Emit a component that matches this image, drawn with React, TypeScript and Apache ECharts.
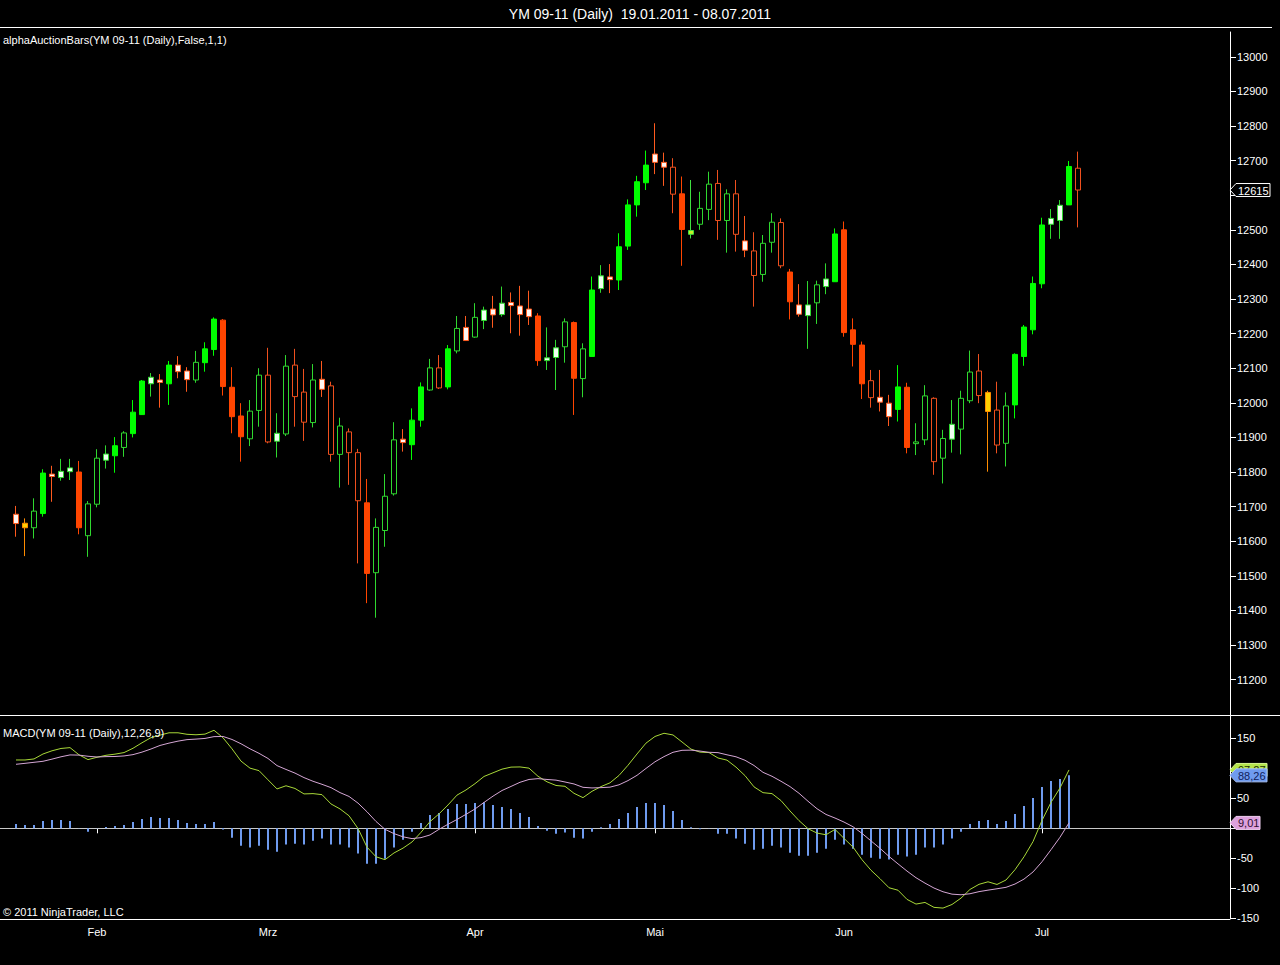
import React, { useEffect, useRef } from "react";
import * as echarts from "echarts";

const TITLE = "YM 09-11 (Daily)  19.01.2011 - 08.07.2011";
const PRICE_PANEL_LABEL = "alphaAuctionBars(YM 09-11 (Daily),False,1,1)";
const MACD_PANEL_LABEL = "MACD(YM 09-11 (Daily),12,26,9)";
const COPYRIGHT = "© 2011 NinjaTrader, LLC";

const HOLIDAYS = ["2011-02-21", "2011-04-22", "2011-05-30", "2011-07-04"];
const FUTURE_SLOTS = 16;
const MONTH_NAMES = ["Jan", "Feb", "Mrz", "Apr", "Mai", "Jun", "Jul", "Aug", "Sep", "Okt", "Nov", "Dez"];

const priceTicks = [11200, 11300, 11400, 11500, 11600, 11700, 11800, 11900, 12000, 12100, 12200, 12300, 12400, 12500, 12600, 12700, 12800, 12900, 13000];
// labels that are not covered by the last-value tags
const priceLabels = [11200, 11300, 11400, 11500, 11600, 11700, 11800, 11900, 12000, 12100, 12200, 12300, 12400, 12500, 12700, 12800, 12900, 13000];
const macdTicks = [-150, -100, -50, 0, 50, 100, 150];
const macdLabels = [-150, -100, -50, 50, 150];

// OHLC per trading day
const opens = [
  11678, 11652, 11639, 11680, 11794, 11784, 11801, 11800, 11616, 11707,
  11834, 11847, 11871, 11911, 11966, 12055, 12066, 12055, 12109, 12092,
  12066, 12116, 12154, 12239, 12045, 11962, 11896, 11978, 12080, 11889,
  11910, 12109, 12031, 11943, 12068, 12049, 11851, 11916, 11856, 11711,
  11509, 11631, 11737, 11895, 11879, 11950, 12037, 12101, 12046, 12150,
  12218, 12190, 12238, 12271, 12255, 12290, 12280, 12271, 12251, 12122,
  12131, 12162, 12232, 12070, 12134, 12330, 12364, 12355, 12453, 12572,
  12636, 12719, 12695, 12681, 12604, 12487, 12516, 12559, 12634, 12527,
  12604, 12468, 12439, 12371, 12464, 12521, 12378, 12283, 12252, 12289,
  12336, 12350, 12500, 12211, 12167, 12064, 12016, 11999, 11981, 12045,
  11882, 11893, 12013, 11840, 11895, 11924, 12006, 12092, 12030, 11979,
  11883, 11994, 12134, 12211, 12344, 12516, 12527, 12572, 12678,
];
const closes = [
  11651, 11639, 11687, 11797, 11787, 11802, 11812, 11639, 11708, 11840,
  11852, 11876, 11913, 11973, 12063, 12074, 12059, 12109, 12090, 12067,
  12117, 12156, 12242, 12047, 11960, 11902, 11976, 12080, 11887, 11912,
  12106, 12018, 11944, 12066, 12039, 11851, 11933, 11856, 11717, 11507,
  11640, 11730, 11893, 11885, 11950, 12046, 12101, 12043, 12156, 12215,
  12180, 12247, 12268, 12254, 12288, 12281, 12255, 12249, 12122, 12130,
  12159, 12234, 12071, 12156, 12326, 12367, 12356, 12451, 12572, 12639,
  12687, 12695, 12681, 12603, 12501, 12498, 12562, 12632, 12527, 12604,
  12487, 12441, 12368, 12461, 12522, 12396, 12292, 12256, 12283, 12341,
  12358, 12488, 12203, 12169, 12055, 12015, 12002, 11960, 12046, 11871,
  11887, 12020, 11830, 11897, 11938, 12013, 12089, 12021, 11975, 11878,
  11991, 12140, 12219, 12345, 12514, 12533, 12571, 12683, 12615,
];
const lows = [
  11613, 11557, 11608, 11671, 11714, 11775, 11777, 11620, 11555, 11698,
  11810, 11798, 11844, 11900, 11965, 12018, 11986, 11994, 12071, 12032,
  12058, 12090, 12136, 12021, 11912, 11830, 11875, 11931, 11883, 11842,
  11904, 11931, 11890, 11929, 12017, 11830, 11755, 11763, 11536, 11421,
  11379, 11584, 11732, 11859, 11835, 11931, 12035, 12040, 12039, 12143,
  12179, 12188, 12213, 12217, 12249, 12201, 12194, 12225, 12107, 12095,
  12037, 12116, 11965, 12016, 12134, 12318, 12317, 12326, 12442, 12538,
  12615, 12661, 12627, 12548, 12396, 12475, 12500, 12528, 12471, 12434,
  12437, 12421, 12278, 12350, 12434, 12389, 12241, 12249, 12156, 12228,
  12314, 12350, 12191, 12105, 12011, 11986, 11975, 11933, 11946, 11854,
  11849, 11878, 11792, 11767, 11856, 11851, 11999, 11999, 11801, 11854,
  11816, 11955, 12107, 12198, 12331, 12474, 12474, 12572, 12507,
];
const highs = [
  11702, 11666, 11724, 11808, 11818, 11838, 11838, 11832, 11716, 11866,
  11877, 11901, 11918, 12008, 12066, 12086, 12083, 12121, 12135, 12103,
  12150, 12175, 12247, 12242, 12103, 11999, 12008, 12100, 12159, 11970,
  12138, 12156, 12098, 12112, 12121, 12061, 11957, 11926, 11867, 11780,
  11666, 11794, 11944, 11924, 11984, 12059, 12127, 12138, 12167, 12251,
  12251, 12288, 12278, 12309, 12336, 12319, 12338, 12324, 12259, 12218,
  12182, 12244, 12235, 12172, 12365, 12398, 12401, 12490, 12588, 12656,
  12729, 12808, 12723, 12707, 12654, 12644, 12610, 12668, 12673, 12617,
  12644, 12540, 12493, 12485, 12548, 12533, 12387, 12343, 12352, 12353,
  12403, 12504, 12524, 12244, 12177, 12095, 12095, 12023, 12109, 12058,
  11941, 12051, 12016, 11922, 12008, 12035, 12151, 12141, 12035, 12061,
  12030, 12143, 12225, 12365, 12535, 12560, 12586, 12699, 12726,
];
// bar state of the alphaAuctionBars indicator:
// G up filled, g up hollow, R down filled, r down hollow, W/w white bodies, Y yellow, L lime
const barKinds = [
  "W", "Y", "g", "G", "W", "w", "w", "R", "g", "g",
  "w", "G", "g", "G", "G", "w", "W", "G", "W", "W",
  "g", "G", "G", "R", "R", "R", "g", "g", "r", "w",
  "g", "r", "r", "g", "W", "r", "g", "r", "r", "R",
  "g", "g", "g", "W", "G", "G", "g", "r", "G", "g",
  "W", "g", "w", "W", "w", "W", "W", "W", "R", "w",
  "w", "g", "R", "g", "G", "w", "W", "G", "G", "G",
  "G", "W", "W", "r", "R", "L", "g", "g", "r", "g",
  "r", "W", "r", "g", "g", "r", "R", "W", "w", "g",
  "w", "G", "R", "R", "R", "r", "W", "W", "G", "R",
  "g", "g", "r", "g", "w", "g", "g", "r", "Y", "r",
  "g", "G", "G", "G", "G", "w", "w", "G", "r",
];

// MACD (12,26,9); the last bar has no value yet
const macdLine = [
  113.9, 113.9, 115.6, 123.9, 129.2, 133.1, 134.5, 122.5, 114.5, 118.4,
  121.7, 123.6, 126.2, 133.4, 142.6, 151.1, 155.3, 159.2, 159.2, 156.7,
  155.9, 157.0, 163.4, 150.9, 132.5, 112.0, 100.3, 96.1, 80.8, 65.6,
  70.9, 66.4, 57.3, 57.8, 56.1, 40.6, 32.3, 20.9, -0.3, -31.4,
  -47.5, -52.3, -41.1, -33.1, -22.8, -6.7, 11.1, 24.0, 38.9, 55.3,
  63.9, 74.4, 86.4, 92.5, 98.6, 102.0, 102.3, 100.3, 86.7, 77.5,
  71.4, 70.0, 58.3, 51.1, 61.7, 69.5, 75.8, 88.1, 105.1, 123.9,
  142.0, 153.1, 158.4, 155.6, 143.9, 132.0, 127.0, 126.2, 117.2, 113.6,
  102.0, 87.8, 69.1, 59.4, 57.8, 46.2, 28.9, 12.8, -0.6, -8.0,
  -10.8, -1.8, -16.8, -31.3, -52.4, -69.9, -84.0, -99.1, -103.2, -118.5,
  -126.3, -123.6, -131.8, -133.0, -127.0, -116.4, -101.9, -93.4, -89.2, -93.6,
  -86.2, -69.0, -47.5, -22.2, 13.1, 43.2, 67.3, 97.27,
];
const signalLine = [
  106.7, 108.3, 110.0, 111.7, 115.3, 119.2, 122.3, 122.0, 120.1, 118.9,
  119.5, 119.7, 120.6, 122.8, 127.0, 132.2, 138.1, 142.0, 145.3, 147.8,
  148.7, 149.8, 152.8, 153.1, 148.1, 140.9, 132.5, 125.0, 116.4, 104.5,
  98.1, 92.0, 84.5, 78.4, 73.3, 67.8, 59.5, 53.1, 42.0, 27.5,
  11.4, -1.7, -8.9, -14.2, -17.2, -15.6, -11.1, -1.7, 6.7, 14.7,
  23.3, 32.2, 43.1, 53.6, 63.0, 69.8, 76.7, 81.4, 82.8, 81.4,
  80.3, 77.2, 73.9, 68.3, 67.3, 67.8, 68.6, 72.5, 79.5, 88.3,
  99.8, 110.9, 119.5, 126.7, 130.0, 130.3, 128.7, 126.7, 126.1, 122.5,
  119.2, 113.4, 104.7, 93.3, 86.7, 78.4, 69.5, 58.4, 45.1, 32.6,
  23.1, 17.1, 10.4, 2.6, -8.5, -21.0, -33.4, -46.9, -59.3, -71.3,
  -82.4, -91.4, -99.6, -105.8, -109.8, -110.8, -109.1, -105.6, -103.1, -100.8,
  -98.4, -92.9, -84.7, -72.8, -55.8, -35.7, -14.9, 9.01,
];
const diffHist = [
  7.2, 5.6, 5.6, 12.2, 13.9, 13.9, 12.2, 0.5, -5.6, -0.5,
  2.2, 3.9, 5.6, 10.6, 15.6, 18.9, 17.2, 17.2, 13.9, 8.9,
  7.2, 7.2, 10.6, -2.2, -15.6, -28.9, -32.2, -28.9, -35.6, -38.9,
  -27.2, -25.6, -27.2, -20.6, -17.2, -27.2, -27.2, -32.2, -42.2, -58.9,
  -58.9, -50.6, -32.2, -18.9, -5.6, 8.9, 22.2, 25.6, 32.2, 40.6,
  40.6, 42.2, 43.3, 38.9, 35.6, 32.2, 25.6, 18.9, 3.9, -3.9,
  -8.9, -7.2, -15.6, -17.2, -5.6, 1.7, 7.2, 15.6, 25.6, 35.6,
  42.2, 42.2, 38.9, 28.9, 13.9, 1.7, -1.7, -0.5, -8.9, -8.9,
  -17.2, -25.6, -35.6, -33.9, -28.9, -32.2, -40.6, -45.6, -45.6, -40.6,
  -33.9, -18.9, -27.2, -33.9, -43.9, -48.9, -50.6, -52.2, -43.9, -47.2,
  -43.9, -32.2, -32.2, -27.2, -17.2, -5.6, 7.2, 12.2, 13.9, 7.2,
  12.2, 23.9, 37.2, 50.6, 68.9, 78.9, 82.2, 88.26,
];

const FONT = '"Liberation Sans", Arial, sans-serif';

const KIND_STYLE: Record<string, { fill: string; border: string }> = {
  G: { fill: "#00ff00", border: "#00ff00" },
  g: { fill: "#000000", border: "#2fd82f" },
  R: { fill: "#ff4500", border: "#ff4500" },
  r: { fill: "#000000", border: "#f0501e" },
  W: { fill: "#fff6f2", border: "#ff5a1e" },
  w: { fill: "#effff0", border: "#2fd82f" },
  Y: { fill: "#ffd000", border: "#ff8c00" },
  L: { fill: "#c8f028", border: "#40e040" },
};

function tradingDays(count: number): string[] {
  const out: string[] = [];
  const d = new Date(Date.UTC(2011, 0, 19));
  while (out.length < count) {
    const wd = d.getUTCDay();
    const s = d.toISOString().slice(0, 10);
    if (wd !== 0 && wd !== 6 && HOLIDAYS.indexOf(s) < 0) out.push(s);
    d.setUTCDate(d.getUTCDate() + 1);
  }
  return out;
}

const fmtComma = (v: number) => v.toFixed(2).replace(".", ",");

export default function App() {
  const ref = useRef<HTMLDivElement>(null);

  useEffect(() => {
    document.body.style.margin = "0";
    document.body.style.background = "#000";
    const el = ref.current;
    if (!el) return;
    const chart = echarts.init(el, null, { renderer: "svg", width: 1280, height: 965 });

    const dates = tradingDays(opens.length);
    const categories = dates.concat(new Array(FUTURE_SLOTS).fill(""));
    const monthStarts = new Set<number>();
    for (let i = 1; i < dates.length; i++) {
      if (dates[i].slice(5, 7) !== dates[i - 1].slice(5, 7)) monthStarts.add(i);
    }

    const candleData = opens.map((o, i) => {
      const st = KIND_STYLE[barKinds[i]] || KIND_STYLE.g;
      return {
        value: [o, closes[i], lows[i], highs[i]],
        itemStyle: {
          color: st.fill,
          color0: st.fill,
          borderColor: st.border,
          borderColor0: st.border,
          borderWidth: 1,
        },
      };
    });

    const axisText = { color: "#ffffff", fontSize: 11, fontFamily: FONT };
    const plain = (v: number) => String(v);

    chart.setOption({
      animation: false,
      backgroundColor: "#000000",
      title: {
        text: TITLE,
        left: "center",
        top: 2,
        textStyle: { color: "#ffffff", fontSize: 14, fontWeight: "normal", fontFamily: FONT },
      },
      grid: [
        { left: 11.5, width: 1215, top: 32, height: 683 },
        { left: 11.5, width: 1215, top: 716, height: 203 },
      ],
      xAxis: [
        { type: "category", gridIndex: 0, data: categories, show: false, boundaryGap: true },
        {
          type: "category",
          gridIndex: 1,
          data: categories,
          boundaryGap: true,
          axisLine: { show: false },
          axisTick: {
            show: true,
            alignWithLabel: true,
            length: 5,
            interval: (i: number) => monthStarts.has(i),
            lineStyle: { color: "#ffffff" },
          },
          axisLabel: {
            ...axisText,
            margin: 7,
            interval: (i: number) => monthStarts.has(i),
            formatter: (v: string) => (v ? MONTH_NAMES[parseInt(v.slice(5, 7), 10) - 1] : ""),
          },
          splitLine: { show: false },
        },
      ],
      yAxis: [
        {
          type: "value",
          gridIndex: 0,
          position: "right",
          offset: 3.5,
          min: 11097.8,
          max: 13071.7,
          axisLine: { show: true, lineStyle: { color: "#ffffff" } },
          axisTick: { show: true, length: 6, customValues: priceTicks, lineStyle: { color: "#ffffff" } },
          axisLabel: { ...axisText, margin: 7, customValues: priceLabels, formatter: plain },
          splitLine: { show: false },
        },
        {
          type: "value",
          gridIndex: 1,
          position: "right",
          offset: 3.5,
          min: -151.2,
          max: 187.2,
          axisLine: { show: true, lineStyle: { color: "#ffffff" } },
          axisTick: { show: true, length: 6, customValues: macdTicks, lineStyle: { color: "#ffffff" } },
          axisLabel: { ...axisText, margin: 7, customValues: macdLabels, formatter: plain },
          splitLine: { show: false },
        },
      ],
      series: [
        {
          type: "candlestick",
          xAxisIndex: 0,
          yAxisIndex: 0,
          barWidth: 5,
          data: candleData,
        },
        {
          type: "bar",
          name: "Diff",
          xAxisIndex: 1,
          yAxisIndex: 1,
          barWidth: 2,
          data: diffHist,
          itemStyle: { color: "#6f9bef" },
          z: 3,
        },
        {
          type: "line",
          name: "Macd",
          xAxisIndex: 1,
          yAxisIndex: 1,
          data: macdLine,
          symbol: "none",
          lineStyle: { color: "#a8d838", width: 1 },
          z: 4,
        },
        {
          type: "line",
          name: "Avg",
          xAxisIndex: 1,
          yAxisIndex: 1,
          data: signalLine,
          symbol: "none",
          lineStyle: { color: "#d4a6d4", width: 1 },
          z: 4,
        },
      ],
    });

    const lastClose = closes[closes.length - 1];
    const lastMacd = macdLine[macdLine.length - 1];
    const lastSignal = signalLine[signalLine.length - 1];
    const lastDiff = diffHist[diffHist.length - 1];

    const yPx = (axis: number, v: number) => chart.convertToPixel({ yAxisIndex: axis } as any, v) as number;
    const y0 = yPx(1, 0);
    const AX = 1230;

    const tag = (yc: number, text: string, right: number, fill: string, stroke: string, textColor: string, z: number) => ({
      type: "group",
      z,
      children: [
        {
          type: "polygon",
          z,
          shape: {
            points: [
              [AX, yc],
              [AX + 6, yc - 6.5],
              [right, yc - 6.5],
              [right, yc + 6.5],
              [AX + 6, yc + 6.5],
            ],
          },
          style: { fill, stroke, lineWidth: 1 },
        },
        {
          type: "text",
          z: z + 1,
          x: AX + 8,
          y: yc + 0.5,
          style: { text, fill: textColor, fontSize: 11, fontFamily: FONT, verticalAlign: "middle", align: "left" },
        },
      ],
    });

    const label = (x: number, y: number, text: string) => ({
      type: "text",
      x,
      y,
      z: 20,
      style: { text, fill: "#ffffff", fontSize: 11, fontFamily: FONT, verticalAlign: "middle", align: "left" },
    });

    const hline = (x1: number, x2: number, y: number, color: string, z: number) => ({
      type: "line",
      z,
      shape: { x1, y1: y, x2, y2: y },
      style: { stroke: color, lineWidth: 1 },
    });

    chart.setOption({
      graphic: {
        elements: [
          hline(0, 1272, 27.5, "#ffffff", 10),
          hline(0, 1280, 715.5, "#ffffff", 10),
          hline(0, AX, 919.5, "#ffffff", 10),
          hline(0, AX, Math.round(y0) + 0.5, "#c8c8c8", 1),
          label(3, 40, PRICE_PANEL_LABEL),
          label(3, 733, MACD_PANEL_LABEL),
          label(3, 912, COPYRIGHT),
          tag(yPx(0, lastClose), String(lastClose), 1270, "#000000", "#ffffff", "#ffffff", 30),
          tag(yPx(1, lastMacd), fmtComma(lastMacd), 1267, "#b4e44c", "#d8f890", "#203000", 30),
          tag(yPx(1, lastDiff), fmtComma(lastDiff), 1267, "#6f9bef", "#a8c0f4", "#10205a", 32),
          tag(yPx(1, lastSignal), fmtComma(lastSignal), 1260, "#dda0dd", "#f0d0f0", "#301030", 34),
        ],
      },
    });

    return () => {
      chart.dispose();
    };
  }, []);

  return (
    <div
      ref={ref}
      style={{ position: "absolute", left: 0, top: 0, width: 1280, height: 965, background: "#000000" }}
    />
  );
}
